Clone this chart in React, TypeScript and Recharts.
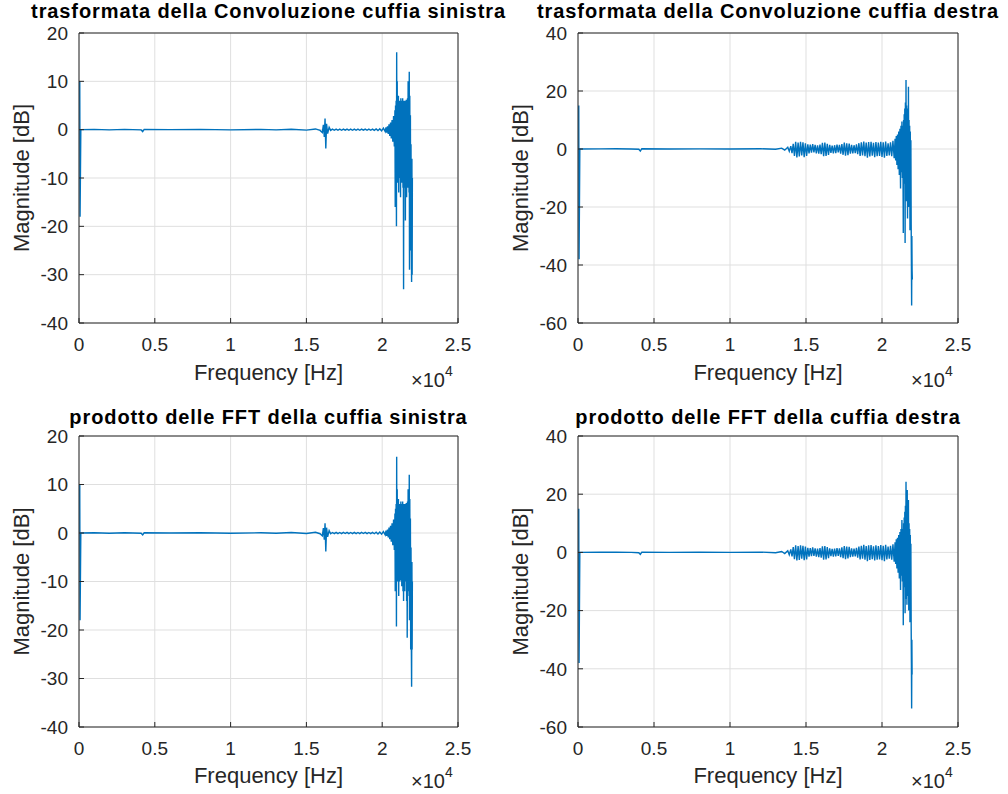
import React from "react";
import { LineChart, Line, XAxis, YAxis, CartesianGrid } from "recharts";

const FONT = '"Liberation Sans", Arial, Helvetica, sans-serif';
const BLUE = "#0072bd";
const AXIS = "#262626";
const GRID = "#dfdfdf";

const freqTicks = [0, 5000, 10000, 15000, 20000, 25000];
const leftMagTicks = [-40, -30, -20, -10, 0, 10, 20];
const rightMagTicks = [-60, -40, -20, 0, 20, 40];

const panelTitles = [
  "trasformata della Convoluzione cuffia sinistra",
  "trasformata della Convoluzione cuffia destra",
  "prodotto delle FFT della cuffia sinistra",
  "prodotto delle FFT della cuffia destra",
];
const xLabel = "Frequency [Hz]";
const yLabel = "Magnitude [dB]";

// frequency grid (Hz) shared by the two left-headphone plots
const leftFreq = [
  50, 70, 120, 1000, 2000, 3000, 4100, 4200, 4300, 6000,
  8000, 10000, 12000, 13000, 14000, 15000, 15600, 15900, 16050, 16120,
  16180, 16230, 16280, 16330, 16400, 16500, 16600, 16720, 16840, 16960,
  17080, 17200, 17320, 17440, 17560, 17680, 17800, 17920, 18040, 18160,
  18280, 18400, 18520, 18640, 18760, 18880, 19000, 19120, 19240, 19360,
  19480, 19600, 19720, 19840, 19960, 20080, 20200, 20250, 20300, 20350,
  20400, 20450, 20500, 20550, 20600, 20650, 20700, 20750, 20800, 20840,
  20860, 20880, 20900, 20920, 20940, 20955, 20970, 20990, 21010, 21030,
  21050, 21070, 21090, 21110, 21130, 21150, 21170, 21190, 21210, 21230,
  21250, 21270, 21290, 21310, 21330, 21350, 21370, 21390, 21410, 21430,
  21450, 21470, 21490, 21510, 21530, 21550, 21570, 21590, 21610, 21630,
  21650, 21670, 21690, 21710, 21730, 21750, 21770, 21785, 21800, 21820,
  21840, 21860, 21880, 21900, 21920, 21940, 21960, 21975, 21990,
];

const convLeftMag = [
  10, -18, 0, 0.05, -0.05, 0.05, -0.05, -0.4, 0.05, 0,
  0.05, -0.05, 0.05, -0.05, 0.1, -0.1, 0.15, -0.15, -0.6, 1,
  -1.5, 2.3, -3.9, 1.2, -0.8, 0.5, -0.15, 0.1, -0.12, 0.12,
  -0.12, 0.1, -0.12, 0.12, -0.1, 0.12, -0.12, 0.1, -0.12, 0.12,
  -0.12, 0.1, -0.12, 0.12, -0.1, 0.12, -0.12, 0.1, -0.12, 0.12,
  -0.15, 0.15, -0.2, 0.2, -0.25, 0.3, -0.4, 0.5, -0.6, 0.7,
  -0.9, 1.1, -1.3, 1.5, -1.8, 2, -2.5, 2.8, -3.5, 4,
  -16, 5, -9, 6, -20, 16, -8, 10, -11, 6,
  -9, 7, -13, 5.5, -8, 6, -10, 5, -14, 6.5,
  -9, 5.5, -11, 6, -8, 6.5, -12, 5, -33, 6,
  -10, 5.5, -12, 6, -18.8, 5.5, -9, 6.2, -14, 6,
  -10, 6.5, -12, 10, -9, 8, -13, 12, -29, 7,
  -20, 3, -25, -3, -22, -31.5, -6, -30, -10,
];

const prodLeftMag = [
  10, -18, 0, 0.05, -0.05, 0.05, -0.05, -0.4, 0.05, 0,
  0.05, -0.05, 0.05, -0.05, 0.1, -0.1, 0.15, -0.15, -0.6, 1,
  -1.4, 2, -3.8, 1.1, -0.8, 0.5, -0.15, 0.1, -0.12, 0.12,
  -0.12, 0.1, -0.12, 0.12, -0.1, 0.12, -0.12, 0.1, -0.12, 0.12,
  -0.12, 0.1, -0.12, 0.12, -0.1, 0.12, -0.12, 0.1, -0.12, 0.12,
  -0.15, 0.15, -0.2, 0.2, -0.25, 0.3, -0.4, 0.5, -0.6, 0.7,
  -0.9, 1.1, -1.3, 1.5, -1.8, 2, -2.5, 2.8, -3.5, 4,
  -12, 5, -9, 6, -19.3, 15.7, -8, 9, -10, 6,
  -9, 7, -13, 5.5, -8, 6, -10, 5, -9.7, 6.5,
  -9, 5.5, -11, 6, -8, 6.5, -12, 5, -14, 6,
  -10.5, 5.5, -12, 6, -10, 5.5, -9, 6.2, -14, 6,
  -21.6, 6.5, -12, 9, -9, 8, -13, 12, -18, 7,
  -12, 3, -24, -3, -22, -31.7, -6, -24, -10,
];

// frequency grid (Hz) shared by the two right-headphone plots
const rightFreq = [
  50, 70, 120, 1500, 2500, 3500, 4000, 4100, 4200, 6000,
  8000, 10000, 12000, 13000, 13400, 13600, 13800, 13900, 14000, 14080,
  14160, 14240, 14320, 14400, 14480, 14560, 14640, 14720, 14800, 14880,
  14960, 15040, 15120, 15200, 15280, 15360, 15440, 15520, 15600, 15680,
  15760, 15840, 15920, 16000, 16080, 16160, 16240, 16320, 16400, 16480,
  16560, 16640, 16720, 16800, 16880, 16960, 17040, 17120, 17200, 17280,
  17360, 17440, 17520, 17600, 17680, 17760, 17840, 17920, 18000, 18080,
  18160, 18240, 18320, 18400, 18480, 18560, 18640, 18720, 18800, 18880,
  18960, 19040, 19120, 19200, 19280, 19360, 19440, 19520, 19600, 19680,
  19760, 19840, 19920, 20000, 20080, 20160, 20240, 20320, 20400, 20480,
  20560, 20640, 20720, 20800, 20860, 20900, 20940, 20980, 21020, 21060,
  21100, 21140, 21180, 21220, 21250, 21280, 21310, 21340, 21370, 21400,
  21420, 21440, 21460, 21480, 21500, 21520, 21540, 21560, 21580, 21600,
  21620, 21640, 21660, 21680, 21700, 21720, 21740, 21760, 21780, 21800,
  21820, 21840, 21860, 21880, 21900, 21920, 21935, 21950, 21965, 21980,
  21995,
];

const convRightMag = [
  15, -38, 0, 0.05, 0.1, 0, -0.1, -0.7, 0.1, 0,
  0.05, 0, 0.1, -0.1, 0.3, -0.4, 0.6, -0.8, 1, -1.4,
  1.8, -2.4, 2.5, -2.9, 2.2, -2.6, 2.5, -2.2, 2.3, -2.8,
  2, -2.4, 1.6, -1.5, 1.5, -1.3, 1.7, -1.2, 1.4, -1.5,
  1.3, -1.6, 1.5, -1.8, 2.1, -2.5, 2.2, -2.4, 1.8, -2,
  1.4, -1.3, 1.2, -1.5, 1.3, -1.4, 1.5, -1.2, 1.4, -1.6,
  1.7, -2, 2.2, -2.3, 2, -2.1, 1.9, -1.6, 1.4, -1.5,
  1.3, -1.4, 1.6, -1.8, 2, -2.4, 2.3, -2.2, 2.6, -2.5,
  2.2, -3, 2.4, -2.6, 2.5, -2.3, 2.1, -2.8, 2.4, -2.5,
  2.2, -2.4, 2.5, -2.7, 2.3, -3, 2.6, -2.4, 2, -2.2,
  2.3, -2.5, 2.8, -3.2, 3.5, -4, 4.5, -5.5, 5, -7,
  6, -9, 7, -13.6, 8, -8, 9.5, -10, 8, -29,
  10, -12, 12, -9, 14, -32.4, 16, -14, 23.8, -18,
  15, -16, 12, -24, 14, -15, 21.5, -20, 10, -18,
  8, -28, 6, -22, 3, -26, -40, -54, -30, -42,
  -45,
];

const prodRightMag = [
  15, -38, 0, 0.05, 0.1, 0, -0.1, -0.7, 0.1, 0,
  0.05, 0, 0.1, -0.1, 0.3, -0.4, 0.6, -0.8, 1, -1.4,
  1.8, -2.3, 2.4, -2.8, 2.2, -2.6, 2.4, -2.2, 2.3, -2.7,
  2, -2.4, 1.6, -1.5, 1.5, -1.3, 1.7, -1.2, 1.4, -1.5,
  1.3, -1.6, 1.5, -1.8, 2.1, -2.5, 2.2, -2.4, 1.8, -2,
  1.4, -1.3, 1.2, -1.5, 1.3, -1.4, 1.5, -1.2, 1.4, -1.6,
  1.7, -2, 2.2, -2.3, 2, -2.1, 1.9, -1.6, 1.4, -1.5,
  1.3, -1.4, 1.6, -1.8, 2, -2.4, 2.3, -2.2, 2.6, -2.5,
  2.2, -3, 2.4, -2.6, 2.5, -2.3, 2.1, -2.8, 2.4, -2.5,
  2.2, -2.4, 2.5, -2.7, 2.3, -3, 2.6, -2.4, 2, -2.2,
  2.3, -2.5, 2.8, -3.2, 3.5, -4, 4.5, -5.5, 5, -7,
  6, -9, 7, -12.9, 8, -8, 11.1, -10, 8, -25,
  10, -12, 12, -9, 14, -20.9, 16, -14, 24.3, -16,
  15, -18, 21.4, -14, 12, -15, 18, -20, 10, -18,
  8, -24, 6, -22, 3, -26, -38, -53.6, -30, -42,
  -42,
];

type PanelProps = {
  freq: number[];
  mag: number[];
  yTicks: number[];
  left: number;
  top: number;
  height: number;
  axisW: number;
  mTop: number;
  mRight: number;
  axisH: number;
};

function Panel({ freq, mag, yTicks, left, top, height, axisW, mTop, mRight, axisH }: PanelProps) {
  const data = freq.map((f, i) => ({ f, m: mag[i] }));
  const yDomain = [yTicks[0], yTicks[yTicks.length - 1]];
  const tickStyle = { fill: AXIS, fontSize: 19, fontFamily: FONT };

  return (
    <div style={{ position: "absolute", left, top }}>
      <LineChart
        width={504}
        height={height}
        data={data}
        margin={{ top: mTop - 1, right: mRight - 1, bottom: 0, left: 0 }}
      >
        <CartesianGrid stroke={GRID} />
        <XAxis
          dataKey="f"
          type="number"
          domain={[0, 25000]}
          ticks={freqTicks}
          interval={0}
          allowDataOverflow
          tickFormatter={(v: number) => String(v / 10000)}
          height={axisH}
          tickSize={-5}
          tickMargin={20}
          stroke={AXIS}
          tick={tickStyle}
        />
        <XAxis
          xAxisId="top"
          orientation="top"
          dataKey="f"
          type="number"
          domain={[0, 25000]}
          ticks={freqTicks}
          interval={0}
          height={1}
          tick={false}
          tickSize={-5}
          stroke={AXIS}
        />
        <YAxis
          type="number"
          domain={yDomain}
          ticks={yTicks}
          interval={0}
          allowDataOverflow
          width={axisW}
          tickSize={-5}
          tickMargin={16}
          stroke={AXIS}
          tick={tickStyle}
        />
        <YAxis
          yAxisId="right"
          orientation="right"
          type="number"
          domain={yDomain}
          ticks={yTicks}
          interval={0}
          width={1}
          tick={false}
          tickSize={-5}
          stroke={AXIS}
        />
        <Line
          type="linear"
          dataKey="m"
          stroke={BLUE}
          strokeWidth={1.4}
          dot={false}
          isAnimationActive={false}
        />
      </LineChart>
    </div>
  );
}

// text placement for each subplot: title/x-label centre, baselines, y-label, exponent
const textSpots = [
  { cx: 268.5, titleY: 18.3, xLabY: 380, yLabX: 28.5, cy: 178, expX: 411, expY: 387 },
  { cx: 768, titleY: 18.3, xLabY: 380, yLabX: 528, cy: 178, expX: 911, expY: 387 },
  { cx: 268.5, titleY: 424, xLabY: 783, yLabX: 28.5, cy: 581.5, expX: 411, expY: 788 },
  { cx: 768, titleY: 424, xLabY: 783, yLabX: 528, cy: 581.5, expX: 911, expY: 788 },
];

export default function App() {
  return (
    <div
      style={{
        position: "fixed",
        left: 0,
        top: 0,
        width: 1008,
        height: 794,
        background: "#fff",
        overflow: "hidden",
      }}
    >
      <Panel freq={leftFreq} mag={convLeftMag} yTicks={leftMagTicks}
        left={0} top={0} height={397} axisW={79} mTop={33} mRight={46} axisH={74} />
      <Panel freq={rightFreq} mag={convRightMag} yTicks={rightMagTicks}
        left={504} top={0} height={397} axisW={74} mTop={33} mRight={50} axisH={74} />
      <Panel freq={leftFreq} mag={prodLeftMag} yTicks={leftMagTicks}
        left={0} top={397} height={397} axisW={79} mTop={39} mRight={46} axisH={67} />
      <Panel freq={rightFreq} mag={prodRightMag} yTicks={rightMagTicks}
        left={504} top={397} height={397} axisW={74} mTop={39} mRight={50} axisH={67} />

      <svg
        width={1008}
        height={794}
        style={{ position: "absolute", left: 0, top: 0, pointerEvents: "none" }}
        fontFamily={FONT}
      >
        {textSpots.map((s, i) => (
          <g key={i}>
            <text
              x={s.cx}
              y={s.titleY}
              textAnchor="middle"
              fontSize={20}
              fontWeight="bold"
              letterSpacing={0.9}
              fill="#000"
            >
              {panelTitles[i]}
            </text>
            <text x={s.cx} y={s.xLabY} textAnchor="middle" fontSize={22} fill={AXIS}>
              {xLabel}
            </text>
            <text
              x={s.yLabX}
              y={s.cy}
              textAnchor="middle"
              fontSize={22}
              fill={AXIS}
              transform={`rotate(-90 ${s.yLabX} ${s.cy})`}
            >
              {yLabel}
            </text>
            <text x={s.expX} y={s.expY} fontSize={20} fill={AXIS}>
              {"\u00d710"}
              <tspan dy={-11} fontSize={14}>4</tspan>
            </text>
          </g>
        ))}
      </svg>
    </div>
  );
}
